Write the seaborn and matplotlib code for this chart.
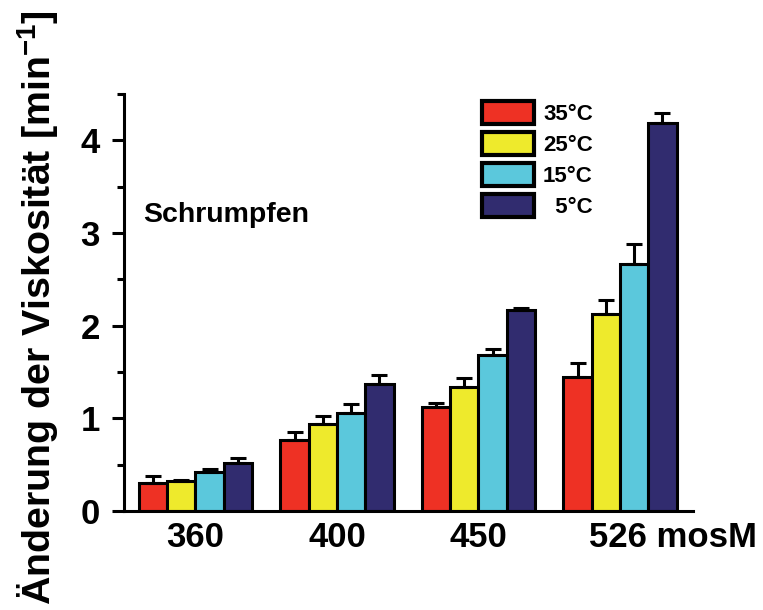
import matplotlib
matplotlib.use("Agg")
import matplotlib.pyplot as plt
import matplotlib.transforms as mtransforms
from matplotlib.patches import Patch
from matplotlib.ticker import MultipleLocator
import pandas as pd
import seaborn as sns

# Osmolarity groups on the x axis and temperature series
osmolarity = ["360", "400", "450", "526"]
temperatures = ["35°C", "25°C", "15°C", "5°C"]

# Mean change in viscosity [1/min] per temperature, ordered by osmolarity
mean_35 = [0.30, 0.77, 1.12, 1.45]
mean_25 = [0.32, 0.94, 1.34, 2.13]
mean_15 = [0.42, 1.06, 1.68, 2.67]
mean_5 = [0.52, 1.37, 2.17, 4.19]

# Upper error bars (SEM)
err_35 = [0.08, 0.08, 0.05, 0.15]
err_25 = [0.01, 0.09, 0.10, 0.15]
err_15 = [0.03, 0.09, 0.07, 0.21]
err_5 = [0.05, 0.10, 0.02, 0.10]

colors = ["#EE3124", "#EEEA2C", "#5BC8DC", "#312C6F"]

means = [mean_35, mean_25, mean_15, mean_5]
errors = [err_35, err_25, err_15, err_5]

rows = []
for temp, vals in zip(temperatures, means):
    for osm, v in zip(osmolarity, vals):
        rows.append({"osm": osm, "temp": temp, "value": v})
df = pd.DataFrame(rows)

sns.set_style("white")
plt.rcParams["font.family"] = ["Liberation Sans", "DejaVu Sans"]
plt.rcParams["font.weight"] = "bold"
plt.rcParams["text.color"] = "black"
plt.rcParams["axes.labelcolor"] = "black"
plt.rcParams["xtick.color"] = "black"
plt.rcParams["ytick.color"] = "black"
plt.rcParams["mathtext.fontset"] = "custom"
plt.rcParams["mathtext.rm"] = "Liberation Sans:bold"
plt.rcParams["mathtext.bf"] = "Liberation Sans:bold"
plt.rcParams["mathtext.it"] = "Liberation Sans:bold"
plt.rcParams["mathtext.default"] = "bf"

W, H = 763, 610
fig = plt.figure(figsize=(W / 100, H / 100), dpi=100)
ax = fig.add_axes([124 / W, (H - 511) / H, 569 / W, 417 / H])

LW = 2.2
sns.barplot(
    data=df, x="osm", y="value", hue="temp",
    order=osmolarity, hue_order=temperatures, palette=colors,
    saturation=1, errorbar=None, width=0.8, edgecolor="black", linewidth=LW,
    legend=False, ax=ax, zorder=2,
)

# Upward error bars centred on each bar
for container, errs in zip(ax.containers, errors):
    xs = [p.get_x() + p.get_width() / 2 for p in container]
    ys = [p.get_height() for p in container]
    ax.errorbar(xs, ys, yerr=[[0] * len(errs), errs], fmt="none",
                ecolor="black", elinewidth=LW, capsize=5.5, capthick=LW,
                zorder=3)

ax.set_xlim(-0.505, 3.516)
ax.set_ylim(0, 4.5)
ax.yaxis.set_major_locator(MultipleLocator(1))
ax.yaxis.set_minor_locator(MultipleLocator(0.5))

for side in ("top", "right"):
    ax.spines[side].set_visible(False)
for side in ("left", "bottom"):
    ax.spines[side].set_linewidth(LW)
    ax.spines[side].set_color("black")

ax.tick_params(axis="y", which="major", length=8.5, width=LW, direction="out",
               labelsize=25, pad=9, left=True)
ax.tick_params(axis="y", which="minor", length=5, width=LW, direction="out",
               left=True)
ax.tick_params(axis="x", length=0, labelsize=25, pad=7)

xlabels = osmolarity[:-1] + [osmolarity[-1] + " mosM"]
ax.set_xticks(range(len(osmolarity)))
ax.set_xticklabels(xlabels, fontweight="bold")
last = ax.get_xticklabels()[-1]
last.set_transform(last.get_transform() +
                   mtransforms.ScaledTranslation(0.53, 0, fig.dpi_scale_trans))
for t in ax.get_yticklabels():
    t.set_fontweight("bold")

ax.set_xlabel("")
ax.set_ylabel("Änderung der Viskosität [min$^{-1}$]", fontsize=28.4,
              fontweight="bold")
ax.yaxis.set_label_coords(-0.111, 0.488)

ax.text(0.033, 3.12, "Schrumpfen", transform=ax.get_yaxis_transform(),
        fontsize=20.5, fontweight="bold", ha="left", va="baseline")

handles = [Patch(facecolor=c, edgecolor="black", linewidth=3) for c in colors]
labels = ["35°C", "25°C", "15°C", "  5°C"]
ax.legend(handles, labels, loc="upper left",
          bbox_to_anchor=(482 / W, 1 - 101 / H), bbox_transform=fig.transFigure,
          frameon=False, prop={"size": 16, "weight": "bold"},
          handlelength=2.35, handleheight=1.22, labelspacing=0.31,
          handletextpad=0.4, borderpad=0, borderaxespad=0)

fig.savefig("out.png", dpi=100, facecolor="white")
